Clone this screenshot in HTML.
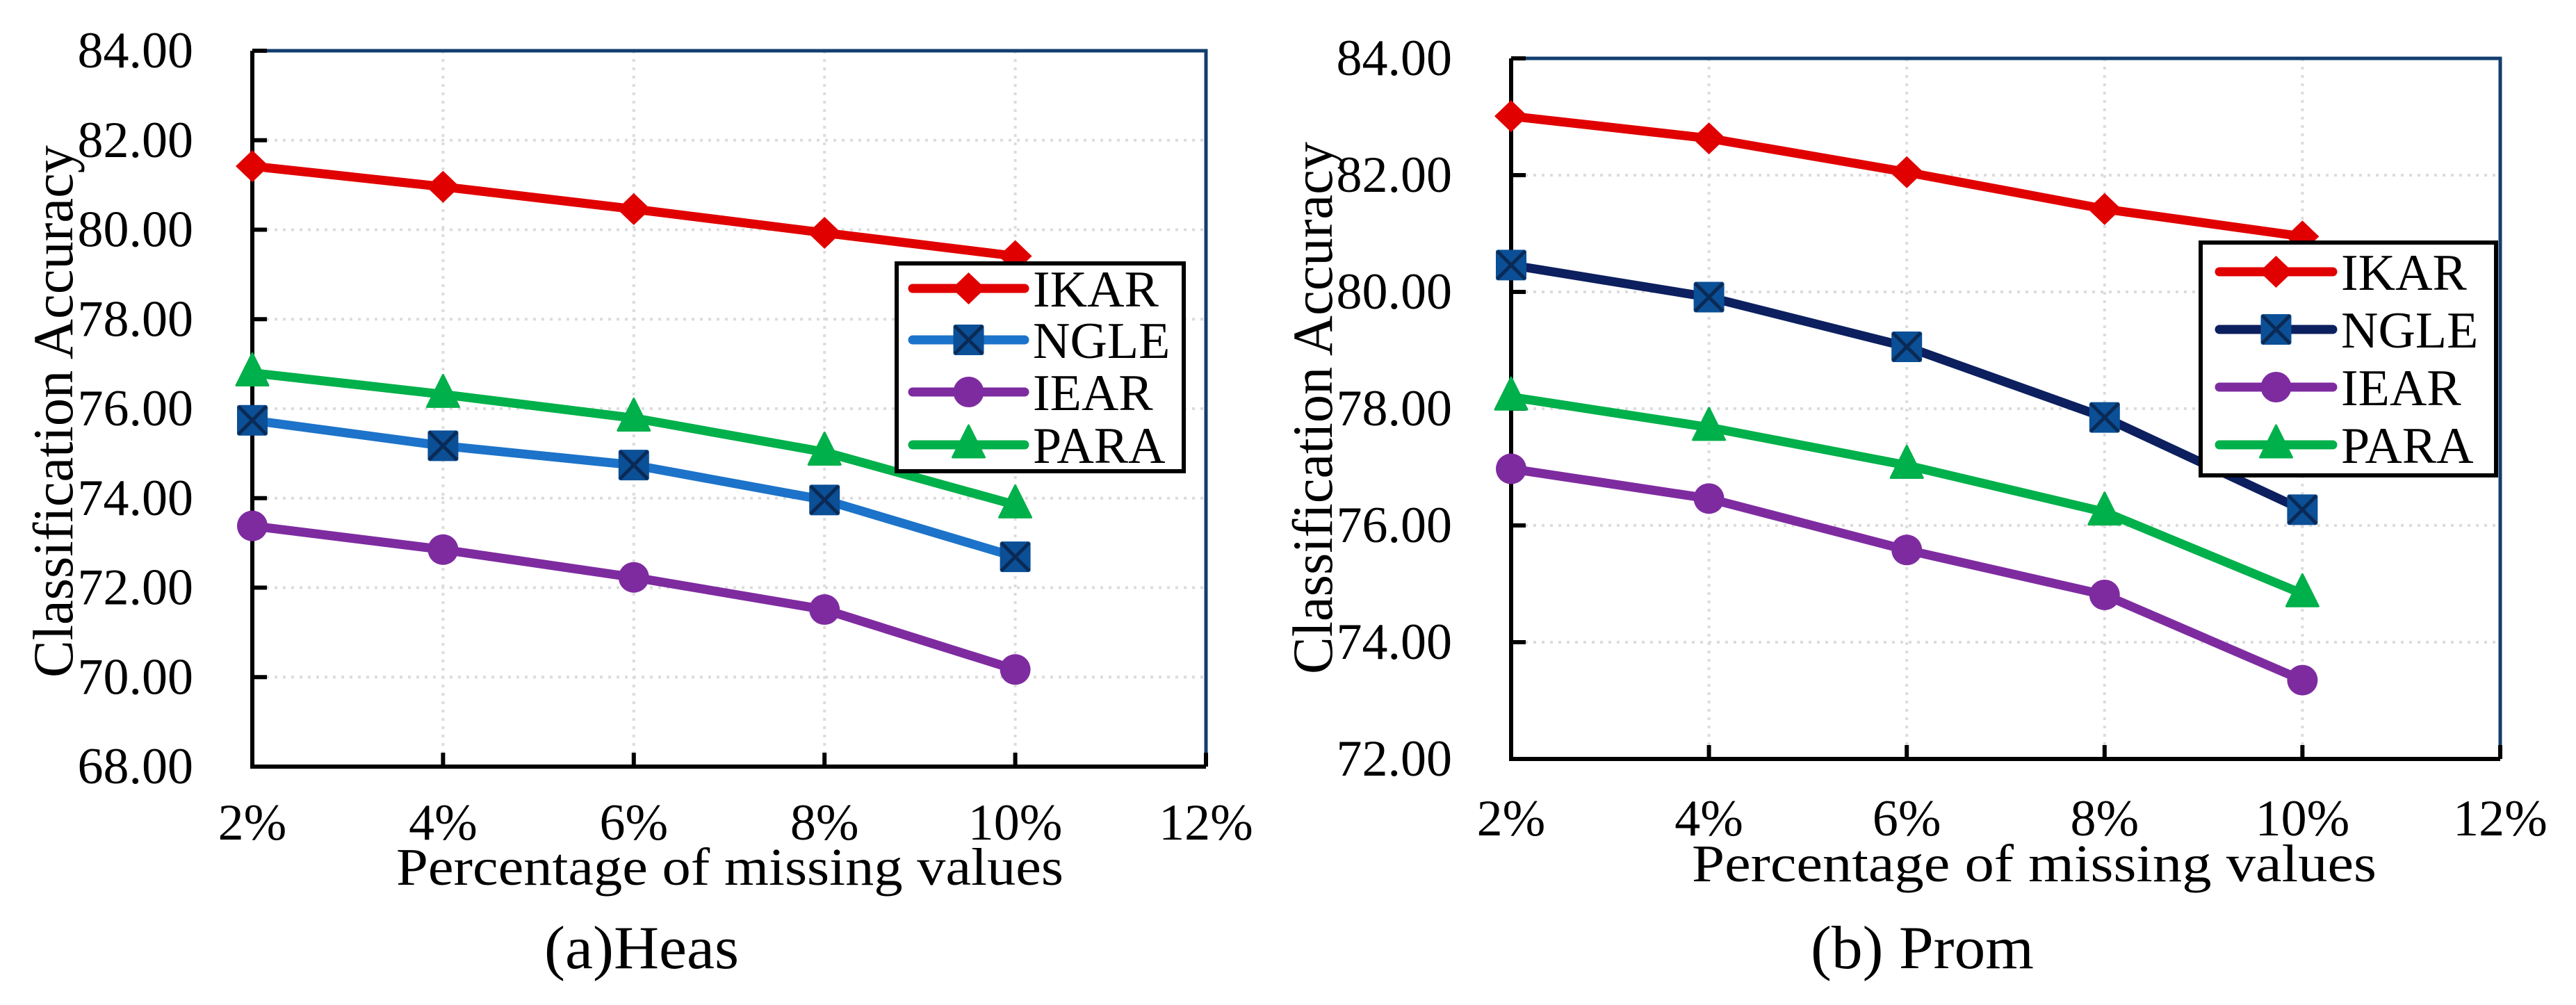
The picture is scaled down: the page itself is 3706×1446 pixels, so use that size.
<!DOCTYPE html>
<html><head><meta charset="utf-8"><style>
html,body{margin:0;padding:0;background:#fff;}
svg{display:block;font-family:"Liberation Serif",serif;}
</style></head><body>
<svg id="chart" width="3706" height="1446" viewBox="0 0 3706 1446" xmlns="http://www.w3.org/2000/svg"></svg>
<script>
const xCategories = [2, 4, 6, 8, 10];
const xTickLabels = ["2%","4%","6%","8%","10%","12%"];
const xTickValues = [2,4,6,8,10,12];
const seriesNames = ["IKAR","NGLE","IEAR","PARA"];
const heasIKAR = [81.42, 80.96, 80.46, 79.93, 79.41];
const heasNGLE = [75.74, 75.17, 74.74, 73.96, 72.69];
const heasIEAR = [73.38, 72.85, 72.23, 71.51, 70.17];
const heasPARA = [76.80, 76.32, 75.79, 75.03, 73.85];
const promIKAR = [83.01, 82.63, 82.05, 81.42, 80.95];
const promNGLE = [80.46, 79.91, 79.06, 77.85, 76.27];
const promIEAR = [76.97, 76.46, 75.58, 74.81, 73.35];
const promPARA = [78.20, 77.68, 77.03, 76.23, 74.83];
const heasYTicks = [68,70,72,74,76,78,80,82,84];
const promYTicks = [72,74,76,78,80,82,84];

const NS = "http://www.w3.org/2000/svg";
const svg = document.getElementById("chart");
function mk(tag, attrs, parent){const e=document.createElementNS(NS,tag);for(const k in attrs)e.setAttribute(k,attrs[k]);(parent||svg).appendChild(e);return e;}

function drawPanel(cfg){
  const g = mk("g",{});
  
  
  const X = v => cfg.x0 + (v-2)/(12-2)*(cfg.x1-cfg.x0);
  const Y = v => cfg.y1 - (v-cfg.ymin)/(cfg.ymax-cfg.ymin)*(cfg.y1-cfg.y0);
  cfg.yTicks.forEach(t=>{
    if(t===cfg.ymin||t===cfg.ymax) return;
    const l=mk("line",{x1:cfg.x0+20,x2:cfg.x1,y1:Y(t),y2:Y(t),stroke:"#dcdcdc","stroke-width":4,"stroke-dasharray":"4 8"},g);
    
    
  });
  xTickValues.forEach(t=>{
    if(t===2||t===12) return;
    const l=mk("line",{x1:X(t),x2:X(t),y1:cfg.y0,y2:cfg.y1-20,stroke:"#dcdcdc","stroke-width":4,"stroke-dasharray":"4 8"},g);
    
    
  });
  const fr=mk("path",{d:`M${cfg.x0} ${cfg.y0} H${cfg.x1} V${cfg.y1}`,fill:"none",stroke:"#123d6e","stroke-width":5},g);
  
  
  const ax=mk("path",{d:`M${cfg.x0} ${cfg.y0} V${cfg.y1} H${cfg.x1}`,fill:"none",stroke:"#000","stroke-width":6},g);
  
  
  cfg.yTicks.forEach(t=>{
    const l=mk("line",{x1:cfg.x0,x2:cfg.x0+21,y1:Y(t),y2:Y(t),stroke:"#000","stroke-width":6},g);
    
    
    const tx=mk("text",{x:cfg.x0-85,y:Y(t)+24,"text-anchor":"end","font-size":74,fill:"#000"},g);
    tx.textContent=t.toFixed(2);
    
    
  });
  xTickValues.forEach((t,i)=>{
    const l=mk("line",{x1:X(t),x2:X(t),y1:cfg.y1,y2:cfg.y1-20,stroke:"#000","stroke-width":6},g);
    
    
    const tx=mk("text",{x:X(t),y:cfg.xLabY,"text-anchor":"middle","font-size":74,fill:"#000"},g);
    tx.textContent=xTickLabels[i];
    
    
  });
  cfg.series.forEach((s,si)=>{
    const pts = s.vals.map((v,i)=>[X(xCategories[i]),Y(v)]);
    const pl=mk("polyline",{points:pts.map(p=>p.join(",")).join(" "),fill:"none",stroke:s.color,"stroke-width":13,"stroke-linejoin":"round"},g);
    
    
    pts.forEach(p=>{
      const m=marker(g,s.marker,p[0],p[1],s.mcolor);
      
      
    });
  });
  const lg=mk("g",{},g);
  
  
  const L=cfg.legend;
  mk("rect",{x:L.x,y:L.y,width:L.w,height:L.h,fill:"#fff",stroke:"#000","stroke-width":6},lg);
  cfg.series.forEach((s,si)=>{
    const ry=L.rows[si];
    const e=mk("g",{},lg);
    
    
    mk("line",{x1:L.lx1,x2:L.lx2,y1:ry,y2:ry,stroke:s.color,"stroke-width":13,"stroke-linecap":"round"},e);
    marker(e,s.marker,(L.lx1+L.lx2)/2,ry,s.mcolor);
    const tx=mk("text",{x:L.tx,y:ry+26,"font-size":74,fill:"#000"},e);
    tx.textContent=seriesNames[si];
  });
  const yt=mk("text",{transform:`translate(${cfg.ytX},${cfg.ytY}) rotate(-90)`,"text-anchor":"middle","font-size":82,fill:"#000",textLength:766,lengthAdjust:"spacingAndGlyphs"},g);
  yt.textContent="Classification Accuracy";
  
  
  const xt=mk("text",{x:cfg.xtX,y:cfg.xtY,"font-size":76,fill:"#000",textLength:cfg.xtW,lengthAdjust:"spacingAndGlyphs"},g);
  xt.setAttribute('xml:space','preserve');
  xt.textContent="Percentage  of missing values";
  
  
  const cp=mk("text",{x:cfg.capX,y:cfg.capY,"font-size":88,fill:"#000",textLength:cfg.capW,lengthAdjust:"spacingAndGlyphs"},g);
  cp.setAttribute('xml:space','preserve');
  cp.textContent=cfg.caption;
  
  
}

function marker(parent,type,x,y,color){
  if(type==="diamond") return mk("path",{d:`M${x} ${y-23} L${x+24} ${y} L${x} ${y+23} L${x-24} ${y} Z`,fill:color},parent);
  if(type==="circle") return mk("circle",{cx:x,cy:y,r:22,fill:color},parent);
  if(type==="triangle") return mk("path",{d:`M${x} ${y-28} L${x+23} ${y+18} L${x-23} ${y+18} Z`,fill:color,stroke:color,"stroke-width":3,"stroke-linejoin":"round"},parent);
  const g=mk("g",{},parent);
  mk("rect",{x:x-22,y:y-22,width:44,height:44,rx:3,fill:"#0b4f96"},g);
  mk("path",{d:`M${x-20} ${y-20} L${x+20} ${y+20} M${x+20} ${y-20} L${x-20} ${y+20}`,stroke:"#0a2a55","stroke-width":5},g);
  return g;
}

drawPanel({name:"panel-heas",x0:363,x1:1735,y0:73,y1:1103,ymin:68,ymax:84,yTicks:heasYTicks,xLabY:1208,
  series:[
    {vals:heasIKAR,color:"#e00000",mcolor:"#e00000",marker:"diamond"},
    {vals:heasNGLE,color:"#1c73c9",mcolor:"#0b4f96",marker:"square"},
    {vals:heasIEAR,color:"#7e2ba0",mcolor:"#7e2ba0",marker:"circle"},
    {vals:heasPARA,color:"#00b04a",mcolor:"#00b04a",marker:"triangle"}],
  legend:{x:1290,y:379,w:413,h:299,rows:[415,489,564,640],lx1:1313,lx2:1474,tx:1486},
  ytX:104,ytY:592,xtX:570,xtY:1273,xtW:960,capX:783,capY:1393,capW:280,caption:"(a)Heas"});

drawPanel({name:"panel-prom",x0:2174,x1:3597,y0:84,y1:1092,ymin:72,ymax:84,yTicks:promYTicks,xLabY:1202,
  series:[
    {vals:promIKAR,color:"#e00000",mcolor:"#e00000",marker:"diamond"},
    {vals:promNGLE,color:"#0c1f5e",mcolor:"#0b4f96",marker:"square"},
    {vals:promIEAR,color:"#7e2ba0",mcolor:"#7e2ba0",marker:"circle"},
    {vals:promPARA,color:"#00b04a",mcolor:"#00b04a",marker:"triangle"}],
  legend:{x:3166,y:349,w:425,h:335,rows:[391,474,557,640],lx1:3193,lx2:3356,tx:3368},
  ytX:1916,ytY:587,xtX:2434,xtY:1268,xtW:985,capX:2605,capY:1393,capW:321,caption:"(b) Prom"});
</script>
</body></html>
